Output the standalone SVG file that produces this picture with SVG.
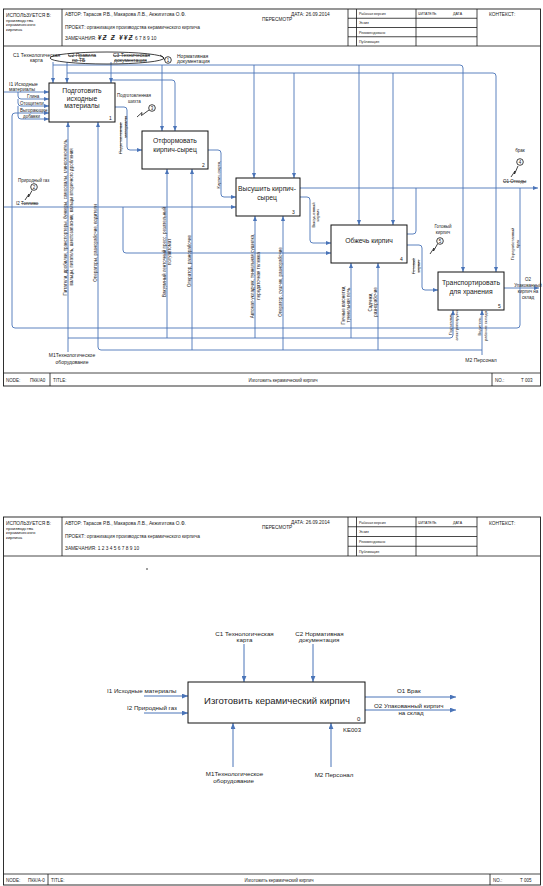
<svg xmlns="http://www.w3.org/2000/svg" width="543" height="886" viewBox="0 0 543 886">
<style>
text{font-family:"Liberation Sans",Arial,sans-serif;fill:#222}
.fr{fill:none;stroke:#1a1a1a;stroke-width:0.9}
.ln{stroke:#1a1a1a;stroke-width:0.8}
.bx{fill:#fff;stroke:#111;stroke-width:1}
.c{fill:none;stroke:#4a74b8;stroke-width:0.9;marker-end:url(#a)}
.cn{fill:none;stroke:#4a74b8;stroke-width:0.9}
.c2{fill:none;stroke:#4a74b8;stroke-width:1;marker-end:url(#b)}
.hw{fill:none;stroke:#111;stroke-width:0.8}
.s{text-decoration:line-through}
.h5{font-size:4.8px}
.h4{font-size:4.3px}
.h3{font-size:3.6px}
.l5{font-size:5px}
.l45{font-size:4.5px}
.l4{font-size:4.1px}
.bt{font-size:6.8px}
.m{text-anchor:middle}
</style>
<defs>
<marker id="a" viewBox="0 0 10 8" refX="10" refY="4" markerWidth="5" markerHeight="4" markerUnits="userSpaceOnUse" orient="auto"><path d="M0,0 L10,4 L0,8 z" fill="#4a74b8"/></marker>
<marker id="b" viewBox="0 0 10 8" refX="10" refY="4" markerWidth="6.5" markerHeight="5" markerUnits="userSpaceOnUse" orient="auto"><path d="M0,0 L10,4 L0,8 z" fill="#4a74b8"/></marker>
</defs>

<!-- ===================== DIAGRAM 1 (A0) ===================== -->
<g id="frame1">
<rect x="3.5" y="9" width="537" height="377" class="fr"/>
<line class="ln" x1="3.5" y1="46" x2="540.5" y2="46"/>
<line class="ln" x1="3.5" y1="373" x2="540.5" y2="373"/>
<line class="ln" x1="62" y1="9" x2="62" y2="46"/>
<line class="ln" x1="348" y1="9" x2="348" y2="46"/>
<line class="ln" x1="356.5" y1="9" x2="356.5" y2="46"/>
<line class="ln" x1="416" y1="9" x2="416" y2="46"/>
<line class="ln" x1="477" y1="9" x2="477" y2="46"/>
<line class="ln" x1="348" y1="18.25" x2="477" y2="18.25"/>
<line class="ln" x1="348" y1="27.5" x2="477" y2="27.5"/>
<line class="ln" x1="348" y1="36.75" x2="477" y2="36.75"/>
<line class="ln" x1="50" y1="373" x2="50" y2="386"/>
<line class="ln" x1="492" y1="373" x2="492" y2="386"/>
<text x="6" y="16.5" class="h5">ИСПОЛЬЗУЕТСЯ В:</text>
<text x="6" y="21.5" class="h4">производства</text>
<text x="6" y="26.3" class="h4">керамического</text>
<text x="6" y="31" class="h4">кирпича</text>
<text x="65" y="16" class="h5">АВТОР: Тарасов Р.В., Макарова Л.В., Акжигитова О.Ф.</text>
<text x="291" y="15.5" class="h5">ДАТА: 26.09.2014</text>
<text x="262" y="20.5" class="h5">ПЕРЕСМОТР</text>
<text x="65" y="28.5" class="h5">ПРОЕКТ: организация производства керамического кирпича</text>
<text x="65" y="40" class="h5">ЗАМЕЧАНИЯ: <tspan font-weight="bold" font-style="italic" font-size="6.5" letter-spacing="1.2">¥Ƶ Ƶ ¥¥Ƶ</tspan> 6 7 8 9 10</text>
<text x="359" y="15.2" class="h3">Рабочая версия</text>
<text x="359" y="24.4" class="h3">Эскиз</text>
<text x="359" y="33.6" class="h3">Рекомендовано</text>
<text x="359" y="42.8" class="h3">Публикация</text>
<text x="418" y="15.2" class="h3">ЧИТАТЕЛЬ</text>
<text x="453" y="15.2" class="h3">ДАТА</text>
<text x="489" y="16" class="h5">КОНТЕКСТ:</text>
<text x="6" y="381.5" class="l45">NODE:</text>
<text x="30" y="381.5" class="l45">ПКК/А0</text>
<text x="53" y="381.5" class="l45">TITLE:</text>
<text x="283" y="381.5" class="l45 m">Изготовить керамический кирпич</text>
<text x="495" y="381.5" class="l45">NO.:</text>
<text x="521" y="381.5" class="l45">T 003</text>
</g>

<g id="connectors1">
<path class="c" d="M53,62 V83"/>
<path class="c" d="M53,65 H460 Q463,65 463,68 V272"/>
<path class="c" d="M162,65 V131"/>
<path class="c" d="M254,65 V178"/>
<path class="c" d="M359,65 V225"/>
<path class="c" d="M67,62 V83"/>
<path class="c" d="M67,73 H493 Q496,73 496,76 V272"/>
<path class="c" d="M294,73 V178"/>
<path class="c" d="M393,73 V225"/>
<path class="c" d="M111,62 V83"/>
<path class="c" d="M111,80 H172 Q175,80 175,83 V131"/>
<path class="c" d="M4,92 H49"/>
<path class="c" d="M18,92 V96 Q18,99 21,99 H49"/>
<path class="c" d="M18,99 V103 Q18,106 21,106 H49"/>
<path class="c" d="M18,106 V116 Q18,119 21,119 H49"/>
<path class="c" d="M520,188 V325 Q520,328 517,328 H15 Q12,328 12,325 V116 Q12,113 15,113 H49"/>
<path class="c" d="M4,207 H236"/>
<path class="c" d="M123,207 V250 Q123,253 126,253 H331"/>
<path class="c" d="M115,107 H124 Q127,107 127,110 V147 Q127,150 130,150 H142"/>
<path class="c" d="M208,150 H218 Q221,150 221,153 V194 Q221,197 224,197 H236"/>
<path class="c" d="M300,188 H538"/>
<path class="cn" d="M407,234 H413 Q416,234 416,231 V188"/>
<path class="c" d="M300,197 H307 Q310,197 310,200 V240 Q310,243 313,243 H331"/>
<path class="c" d="M407,245 H419 Q422,245 422,248 V287 Q422,290 425,290 H438"/>
<path class="c" d="M504,288 H539"/>
<path class="c" d="M68,352 V122"/>
<path class="c" d="M68,338 H450 Q453,338 453,335 V310"/>
<path class="c" d="M167,338 V169"/>
<path class="c" d="M255,338 V216"/>
<path class="c" d="M351,338 V263"/>
<path class="c" d="M482,355 V310"/>
<path class="c" d="M482,350 H101 Q98,350 98,347 V122"/>
<path class="c" d="M192,350 V169"/>
<path class="c" d="M283,350 V216"/>
<path class="c" d="M378,350 V263"/>
</g>

<g id="labels1">
<text x="13" y="57" class="l5">C1 Технологическая</text>
<text x="30" y="62" class="l5">карта</text>
<text x="68" y="57" class="l5 s">C2 Правила</text>
<text x="72" y="62" class="l5 s">по ТБ</text>
<text x="113" y="57" class="l5 s">C3 Техническая</text>
<text x="114" y="62" class="l5 s">документация</text>
<ellipse cx="107" cy="58" rx="57" ry="6" class="hw"/>
<path class="hw" d="M160,55 Q164,57 164.5,60"/>
<circle cx="168" cy="60" r="3.3" class="hw"/>
<text x="168" y="61.6" class="l45 m">1</text>
<text x="177" y="57.5" class="l5">Нормативная</text>
<text x="177" y="63" class="l5">документация</text>

<text x="9" y="86" class="l5">I1 Исходные</text>
<text x="9" y="91" class="l5">материалы</text>
<text x="27" y="98" class="l45">Глина</text>
<text x="20" y="105" class="l45">Отощители</text>
<text x="20" y="111.8" class="l45">Выгорающие</text>
<text x="23" y="118" class="l45">добавки</text>

<text x="18" y="182" class="l45">Природный газ</text>
<circle cx="34" cy="187" r="3.3" class="hw"/>
<text x="34" y="188.6" class="l45 m">2</text>
<path class="hw" d="M25,200 L29,194 L28.5,197 L32,190.5"/>
<text x="16" y="205" class="l45">I2 <tspan class="s">Топливо</tspan></text>

<text x="117" y="97" class="l45">Подготовленная</text>
<text x="128" y="102.5" class="l45">шихта</text>
<circle cx="152" cy="108" r="3.3" class="hw"/>
<text x="152" y="109.6" class="l45 m">3</text>
<path class="hw" d="M137,117 L142,112.5 L141.5,115.5 L149,110"/>
<text transform="translate(122,138) rotate(-90)" class="l4 m s">Подготовленные</text>
<text transform="translate(126.5,127) rotate(-90)" class="l4 m s">материалы</text>

<text transform="translate(219.5,175) rotate(-90)" class="l4 m">Кирпич-сырец</text>
<text transform="translate(314.5,215) rotate(-90)" class="l4 m">Высушенный</text>
<text transform="translate(319,215) rotate(-90)" class="l4 m">кирпич</text>

<text x="520" y="152" class="l45 m">брак</text>
<circle cx="520" cy="162" r="3.3" class="hw"/>
<text x="520" y="163.6" class="l45 m">4</text>
<path class="hw" d="M511,177 L515,171 L514.5,174 L518,166"/>
<text x="503" y="183" class="l45 s">O1 Отходы</text>

<text x="443" y="228" class="l45 m">Готовый</text>
<text x="443" y="234" class="l45 m">кирпич</text>
<circle cx="440" cy="241" r="3.3" class="hw"/>
<text x="440" y="242.6" class="l45 m">5</text>
<path class="hw" d="M430,254 L434,248 L433.5,251 L437.5,244"/>
<text transform="translate(415,266) rotate(-90)" class="l4 m s">Готовый</text>
<text transform="translate(419.5,266) rotate(-90)" class="l4 m s">кирпич</text>

<text x="528" y="281" class="l45 m">O2</text>
<text x="528" y="287" class="l45 m">Упакованный</text>
<text x="528" y="293" class="l45 m">кирпич на</text>
<text x="528" y="299" class="l45 m">склад</text>
<text transform="translate(514,244) rotate(-90)" class="l4 m">Переработанный</text>
<text transform="translate(518.5,244) rotate(-90)" class="l4 m">брак</text>

<text transform="translate(66.5,217) rotate(-90)" class="l45 m">Питатели, дробилки, транспортеры, бункеры, самосвалы, глиносмеситель,</text>
<text transform="translate(73,217) rotate(-90)" class="l45 m">вальцы, питатель, шихтозапасник, вальцы вторичного дробления</text>
<text transform="translate(96.5,243) rotate(-90)" class="l45 m">Операторы, разнорабочие, водители</text>
<text transform="translate(165.5,252) rotate(-90)" class="l45 m">Вакуумный ленточный пресс, резательный</text>
<text transform="translate(171,252) rotate(-90)" class="l45 m">полуавтомат</text>
<text transform="translate(190.5,261) rotate(-90)" class="l45 m">Оператор, разнорабочие</text>
<text transform="translate(253.5,276) rotate(-90)" class="l45 m">Автомат-укладчик, туннельная сушилка,</text>
<text transform="translate(259.5,276) rotate(-90)" class="l45 m">передаточная тележка</text>
<text transform="translate(281.5,282) rotate(-90)" class="l45 m">Оператор, сушчик, разнорабочие</text>
<text transform="translate(344.5,305) rotate(-90)" class="l45 m">Печные вагонетки,</text>
<text transform="translate(349.5,305) rotate(-90)" class="l45 m">туннельная печь</text>
<text transform="translate(371.5,302) rotate(-90)" class="l45 m">Садчики,</text>
<text transform="translate(376.5,302) rotate(-90)" class="l45 m">разнорабочие</text>
<text transform="translate(451.5,324) rotate(-90)" class="l4 m">Подъемник,</text>
<text transform="translate(458,324) rotate(-90)" class="l4 m">электропогрузчик</text>
<text transform="translate(480.5,326) rotate(-90)" class="l4 m">Водитель,</text>
<text transform="translate(487,326) rotate(-90)" class="l4 m">рабочие склада</text>

<text x="72" y="357" class="l5 m">M1Технологическое</text>
<text x="72" y="363.5" class="l5 m">оборудование</text>
<text x="481" y="361.5" class="l5 m">M2 Персонал</text>
</g>

<g id="node1">
<rect x="49" y="83" width="66" height="39" class="bx"/>
<text x="82" y="93" class="bt m">Подготовить</text>
<text x="82" y="100.5" class="bt m">исходные</text>
<text x="82" y="108" class="bt m">материалы</text>
<text x="109" y="119.5" class="l5">1</text>
</g>
<g id="node2">
<rect x="142" y="131" width="66" height="38" class="bx"/>
<text x="175" y="143" class="bt m">Отформовать</text>
<text x="175" y="152" class="bt m">кирпич-сырец</text>
<text x="202" y="166.5" class="l5">2</text>
</g>
<g id="node3">
<rect x="236" y="178" width="64" height="38" class="bx"/>
<text x="267" y="191" class="bt m">Высушить кирпич-</text>
<text x="267" y="200" class="bt m">сырец</text>
<text x="292" y="213.5" class="l5">3</text>
</g>
<g id="node4">
<rect x="331" y="225" width="76" height="38" class="bx"/>
<text x="369" y="243" class="bt m">Обжечь кирпич</text>
<text x="400" y="260.5" class="l5">4</text>
</g>
<g id="node5">
<rect x="438" y="272" width="66" height="38" class="bx"/>
<text x="471" y="285" class="bt m">Транспортировать</text>
<text x="471" y="293.5" class="bt m">для хранения</text>
<text x="498" y="307.5" class="l5">5</text>
</g>

<!-- ===================== DIAGRAM 2 (A-0) ===================== -->
<g id="frame2">
<rect x="3.5" y="517" width="537" height="368" class="fr"/>
<line class="ln" x1="3.5" y1="556" x2="540.5" y2="556"/>
<line class="ln" x1="3.5" y1="874" x2="540.5" y2="874"/>
<line class="ln" x1="62" y1="517" x2="62" y2="556"/>
<line class="ln" x1="348" y1="517" x2="348" y2="556"/>
<line class="ln" x1="356.5" y1="517" x2="356.5" y2="556"/>
<line class="ln" x1="416" y1="517" x2="416" y2="556"/>
<line class="ln" x1="477" y1="517" x2="477" y2="556"/>
<line class="ln" x1="348" y1="526.75" x2="477" y2="526.75"/>
<line class="ln" x1="348" y1="536.5" x2="477" y2="536.5"/>
<line class="ln" x1="348" y1="546.25" x2="477" y2="546.25"/>
<line class="ln" x1="48" y1="874" x2="48" y2="885"/>
<line class="ln" x1="490" y1="874" x2="490" y2="885"/>
<text x="6" y="524.5" class="h5">ИСПОЛЬЗУЕТСЯ В:</text>
<text x="6" y="529.5" class="h4">производства</text>
<text x="6" y="534.3" class="h4">керамического</text>
<text x="6" y="539" class="h4">кирпича</text>
<text x="65" y="524.5" class="h5">АВТОР: Тарасов Р.В., Макарова Л.В., Акжигитова О.Ф.</text>
<text x="291" y="524" class="h5">ДАТА: 26.09.2014</text>
<text x="262" y="528.5" class="h5">ПЕРЕСМОТР</text>
<text x="65" y="537.5" class="h5">ПРОЕКТ: организация производства керамического кирпича</text>
<text x="65" y="550" class="h5">ЗАМЕЧАНИЯ: 1 2 3 4 5 6 7 8 9 10</text>
<text x="359" y="523.5" class="h3">Рабочая версия</text>
<text x="359" y="533.2" class="h3">Эскиз</text>
<text x="359" y="543" class="h3">Рекомендовано</text>
<text x="359" y="552.7" class="h3">Публикация</text>
<text x="418" y="523.5" class="h3">ЧИТАТЕЛЬ</text>
<text x="453" y="523.5" class="h3">ДАТА</text>
<text x="489" y="524.5" class="h5">КОНТЕКСТ:</text>
<circle cx="147" cy="569" r="0.8" fill="#222"/>
<text x="6" y="881.5" class="l45">NODE:</text>
<text x="28" y="881.5" class="l45">ПКК/А-0</text>
<text x="51" y="881.5" class="l45">TITLE:</text>
<text x="279" y="881.5" class="l45 m">Изготовить керамический кирпич</text>
<text x="493" y="881.5" class="l45">NO.:</text>
<text x="520" y="881.5" class="l45">T 005</text>
</g>

<g id="connectors2">
<path class="c2" d="M244,644 V682"/>
<path class="c2" d="M313,644 V682"/>
<path class="c2" d="M144,696 H188"/>
<path class="c2" d="M144,713 H188"/>
<path class="c2" d="M365,697 H456"/>
<path class="c2" d="M365,710 H456"/>
<path class="c2" d="M233,767 V723"/>
<path class="c2" d="M331,767 V723"/>
</g>

<g id="labels2">
<text x="244.5" y="635.5" class="m" font-size="6.2">C1 Технологическая</text>
<text x="244.5" y="642" class="m" font-size="6.2">карта</text>
<text x="319.5" y="635.5" class="m" font-size="6.2">C2 Нормативная</text>
<text x="319" y="642" class="m" font-size="6.2">документация</text>
<text x="107" y="693" font-size="6.2">I1 Исходные материалы</text>
<text x="127" y="710" font-size="6.2">I2 Природный газ</text>
<text x="397" y="693" font-size="6.2">O1 Брак</text>
<text x="374" y="707.5" font-size="6.2">O2 Упакованный кирпич</text>
<text x="411" y="715" class="m" font-size="6.2">на склад</text>
<text x="234.5" y="775.5" class="m" font-size="6.2">M1Технологическое</text>
<text x="233.5" y="783" class="m" font-size="6.2">оборудование</text>
<text x="334" y="776.5" class="m" font-size="6.2">M2 Персонал</text>
</g>

<g id="node0">
<rect x="188" y="682" width="177" height="41" class="bx"/>
<text x="277" y="703.5" class="m" font-size="9.5">Изготовить керамический кирпич</text>
<text x="357" y="720.5" font-size="6">0</text>
<text x="352" y="732" class="m" font-size="6">KE003</text>
</g>
</svg>
